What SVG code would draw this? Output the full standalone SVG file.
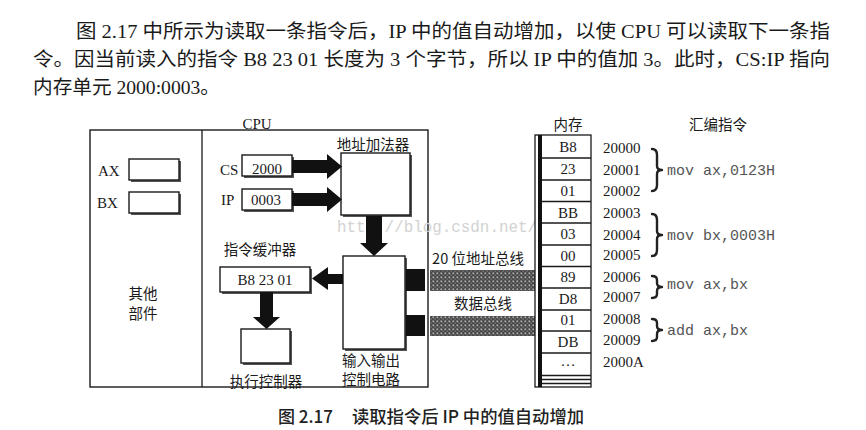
<svg xmlns="http://www.w3.org/2000/svg" width="866" height="430" viewBox="0 0 866 430">
<defs>
<pattern id="hatch" width="4" height="4" patternUnits="userSpaceOnUse">
<rect width="4" height="4" fill="#4a4a4a"/>
<rect x="0.5" y="0.5" width="1.6" height="1.6" fill="#b8b8b8"/>
<rect x="2.5" y="2.5" width="1.2" height="1.2" fill="#8a8a8a"/>
</pattern>
</defs>
<style>
.para{font-family:"Liberation Serif","Noto Sans CJK SC",serif;font-size:19px;fill:#1a1a1a}
.lat{font-family:"Liberation Serif",serif;font-size:15px;fill:#1a1a1a}
.cjk{font-family:"Noto Sans CJK SC",sans-serif;font-size:14.5px;fill:#1a1a1a}
.mono{font-family:"Liberation Mono",monospace;font-size:15px;fill:#555}
.cap{font-family:"Noto Sans CJK SC",sans-serif;font-size:17.5px;fill:#222;font-weight:500}
.box{fill:#fff;stroke:#1a1a1a;stroke-width:1.4}
.shadow{fill:#555}
.line{stroke:#1a1a1a;stroke-width:1.3;fill:none}
.arrow{fill:#111}
.brace{fill:none;stroke:#222;stroke-width:2.4;stroke-linecap:round;stroke-linejoin:round}
.wm{font-family:"Liberation Mono",monospace;font-size:16.5px;fill:#d2d2d2}
</style>
<rect width="866" height="430" fill="#fff"/>

<g id="paragraph">
<text class="para" x="76" y="38" textLength="754" lengthAdjust="spacingAndGlyphs">图 2.17 中所示为读取一条指令后，IP 中的值自动增加，以使 CPU 可以读取下一条指</text>
<text class="para" x="33" y="66" textLength="797" lengthAdjust="spacingAndGlyphs">令。因当前读入的指令 B8 23 01 长度为 3 个字节，所以 IP 中的值加 3。此时，CS:IP 指向</text>
<text class="para" x="33" y="94" textLength="187" lengthAdjust="spacingAndGlyphs">内存单元 2000:0003。</text>
</g>

<g id="cpu">
<rect class="box" x="90" y="130" width="338" height="257"/>
<line class="line" x1="202" y1="130" x2="202" y2="387"/>
<text class="lat" x="257" y="129" text-anchor="middle" font-size="14">CPU</text>
</g>

<g id="other-parts">
<text class="cjk" x="143" y="299" text-anchor="middle">其他</text>
<text class="cjk" x="143" y="319" text-anchor="middle">部件</text>
</g>

<g id="ax">
<text class="lat" x="98" y="176">AX</text>
<rect class="shadow" x="131" y="161" width="50" height="21"/>
<rect class="box" x="129" y="159" width="50" height="21"/>
</g>
<g id="bx">
<text class="lat" x="97" y="208">BX</text>
<rect class="shadow" x="131" y="194" width="50" height="21"/>
<rect class="box" x="129" y="192" width="50" height="21"/>
</g>

<g id="cs">
<text class="lat" x="220" y="175">CS</text>
<rect class="shadow" x="244" y="157" width="50" height="21"/>
<rect class="box" x="242" y="155" width="50" height="21"/>
<text class="lat" x="267" y="174" text-anchor="middle">2000</text>
</g>
<g id="ip">
<text class="lat" x="221" y="205">IP</text>
<rect class="shadow" x="244" y="191" width="50" height="21"/>
<rect class="box" x="242" y="189" width="50" height="21"/>
<text class="lat" x="266" y="205" text-anchor="middle">0003</text>
</g>

<g id="adder">
<rect class="shadow" x="343" y="155" width="69" height="62"/>
<rect class="box" x="341" y="153" width="69" height="62"/>
<text class="cjk" x="373" y="150" text-anchor="middle">地址加法器</text>
</g>

<g id="buffer">
<text class="cjk" x="260" y="255" text-anchor="middle">指令缓冲器</text>
<rect class="shadow" x="222" y="269" width="90" height="25"/>
<rect class="box" x="220" y="267" width="90" height="25"/>
<text class="lat" x="265" y="285" text-anchor="middle">B8 23 01</text>
</g>

<g id="exec">
<rect class="shadow" x="243" y="331" width="49" height="34"/>
<rect class="box" x="241" y="329" width="49" height="34"/>
<text class="cjk" x="266" y="387" text-anchor="middle">执行控制器</text>
</g>

<g id="io">
<rect class="shadow" x="345" y="258" width="62" height="93"/>
<rect class="box" x="343" y="256" width="62" height="93"/>
<text class="cjk" x="371" y="366" text-anchor="middle" font-size="14">输入输出</text>
<text class="cjk" x="371" y="385" text-anchor="middle" font-size="14">控制电路</text>
</g>

<text class="wm" x="337" y="232" textLength="200" lengthAdjust="spacingAndGlyphs">http://blog.csdn.net/</text>

<g id="connectors">
<polygon class="arrow" points="292,160 327,160 327,154 342,166.5 327,179 327,173 292,173"/>
<polygon class="arrow" points="292,193 327,193 327,187 342,199.5 327,212 327,206 292,206"/>
<polygon class="arrow" points="366,216 382,216 382,243 388,243 374,256 360,243 366,243"/>
<polygon class="arrow" points="343,274 328,274 328,267 312,278.5 328,290 328,284 343,284"/>
<polygon class="arrow" points="260,292 273,292 273,317 280,317 266.5,329 253,317 260,317"/>
<rect x="406" y="269" width="19" height="22" fill="#111"/>
<rect x="406" y="315" width="19" height="21" fill="#111"/>
<rect x="430" y="270" width="105" height="21" fill="url(#hatch)"/>
<rect x="430" y="316" width="105" height="20" fill="url(#hatch)"/>
<text class="cjk" x="478" y="264" text-anchor="middle">20 位地址总线</text>
<text class="cjk" x="483" y="309" text-anchor="middle">数据总线</text>
</g>

<g id="memory">
<text class="cjk" x="568" y="130" text-anchor="middle">内存</text>
<rect x="535" y="135" width="56" height="252" fill="#fff" stroke="#1a1a1a" stroke-width="1.3"/>
<line x1="540" y1="135" x2="540" y2="387" stroke="#111" stroke-width="4"/>
<g class="line">
<line x1="542" y1="158" x2="591" y2="158"/>
<line x1="542" y1="180" x2="591" y2="180"/>
<line x1="542" y1="201.5" x2="591" y2="201.5"/>
<line x1="542" y1="223" x2="591" y2="223"/>
<line x1="542" y1="245" x2="591" y2="245"/>
<line x1="542" y1="266.5" x2="591" y2="266.5"/>
<line x1="542" y1="288" x2="591" y2="288"/>
<line x1="542" y1="310" x2="591" y2="310"/>
<line x1="542" y1="331" x2="591" y2="331"/>
<line x1="542" y1="353" x2="591" y2="353"/>
<line x1="542" y1="375.5" x2="591" y2="375.5"/>
<line x1="542" y1="379.5" x2="591" y2="379.5"/>
<line x1="542" y1="383.5" x2="591" y2="383.5"/>
</g>
<g class="lat" text-anchor="middle">
<text x="568" y="152">B8</text>
<text x="568" y="174">23</text>
<text x="568" y="196">01</text>
<text x="568" y="218">BB</text>
<text x="568" y="239">03</text>
<text x="568" y="261">00</text>
<text x="568" y="282">89</text>
<text x="568" y="304">D8</text>
<text x="568" y="325">01</text>
<text x="568" y="347">DB</text>
<text x="568" y="366">…</text>
</g>
</g>

<g id="addresses" class="lat">
<text x="603" y="153">20000</text>
<text x="603" y="175">20001</text>
<text x="603" y="196">20002</text>
<text x="603" y="218">20003</text>
<text x="603" y="240">20004</text>
<text x="603" y="260">20005</text>
<text x="603" y="282">20006</text>
<text x="603" y="302">20007</text>
<text x="603" y="324">20008</text>
<text x="603" y="345">20009</text>
<text x="603" y="367">2000A</text>
</g>

<g id="asm">
<text class="cjk" x="718" y="130" text-anchor="middle">汇编指令</text>
<path class="brace" d="M652,149 Q657,149 657,155 V166 Q657,170 662,170 Q657,170 657,174 V185 Q657,191 652,191"/>
<text class="mono" x="667" y="175">mov ax,0123H</text>
<path class="brace" d="M652,214 Q657,214 657,220 V231 Q657,235 662,235 Q657,235 657,239 V250 Q657,256 652,256"/>
<text class="mono" x="667" y="240">mov bx,0003H</text>
<path class="brace" d="M652,276 Q657,276 657,280 V283 Q657,287 662,287 Q657,287 657,291 V294 Q657,298 652,298"/>
<text class="mono" x="667" y="289">mov ax,bx</text>
<path class="brace" d="M652,319 Q657,319 657,323 V326 Q657,330 662,330 Q657,330 657,334 V337 Q657,341 652,341"/>
<text class="mono" x="667" y="335">add ax,bx</text>
</g>

<g id="caption">
<text class="cap" x="278" y="423" textLength="55" lengthAdjust="spacingAndGlyphs">图 2.17</text>
<text class="cap" x="352" y="423" textLength="232" lengthAdjust="spacingAndGlyphs">读取指令后 IP 中的值自动增加</text>
</g>
</svg>
